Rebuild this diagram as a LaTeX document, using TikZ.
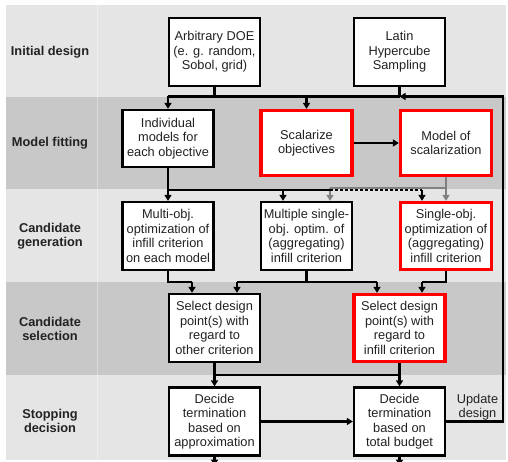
\documentclass[tikz,border=0pt]{standalone}
\usepackage{fontspec}
\setmainfont{Liberation Sans}
\usetikzlibrary{arrows.meta}
\definecolor{bandlight}{HTML}{E5E5E5}
\definecolor{banddark}{HTML}{C8C8C8}
\definecolor{txt}{HTML}{222222}
\definecolor{boxred}{HTML}{FF0000}
\definecolor{linegray}{HTML}{808080}
\begin{document}
\begin{tikzpicture}[x=1pt,y=-1pt,
  font=\fontsize{12.8}{14.5}\selectfont,
  box/.style={draw=black, line width=2.3pt, fill=white, minimum width=91pt, minimum height=68pt, inner sep=0pt, align=center, text=txt},
  redbox/.style={box, draw=boxred, line width=3.3pt},
  conn/.style={line width=2.1pt, draw=black},
  arr/.style={conn, -{Triangle[length=6pt,width=7pt]}},
  grayarr/.style={line width=2.1pt, draw=linegray, -{Triangle[length=6pt,width=7pt]}},
  lbl/.style={font=\fontsize{12.8}{14.5}\selectfont\bfseries, align=center, text=txt}]
\useasboundingbox (0,0) rectangle (508,462);
% bands
\fill[bandlight] (6,5) rectangle (506,97);
\fill[banddark] (6,97) rectangle (506,189.5);
\fill[bandlight] (6,189.5) rectangle (506,282);
\fill[banddark] (6,282) rectangle (506,375);
\fill[bandlight] (6,375) rectangle (506,460);
\draw[white, opacity=0.35, line width=1pt] (97.5,5) -- (97.5,460);
% row labels
\node[lbl] (l1) at (50,52) {Initial design};
\node[lbl] (l2) at (50,143) {Model fitting};
\node[lbl] (l3) at (50,236) {Candidate\\generation};
\node[lbl] (l4) at (50,329) {Candidate\\selection};
\node[lbl] (l5) at (50,421) {Stopping\\decision};
% bus coordinates
\coordinate (b1) at (0,96.5);
\coordinate (b2) at (0,190);
\coordinate (b2g) at (0,188);
\coordinate (b3) at (0,282);
\coordinate (b4) at (0,375);
\coordinate (rx) at (503,0);
% boxes
\node[box] (doe) at (214.5,52) {Arbitrary DOE\\(e. g. random,\\Sobol, grid)};
\node[box] (lhs) at (399.5,52) {Latin\\Hypercube\\Sampling};
\node[box, minimum height=57pt] (ind) at (168,138.5) {Individual\\models for\\each objective};
\node[redbox, minimum height=65pt] (scal) at (306.5,143) {Scalarize\\objectives};
\node[redbox, minimum height=65pt] (mos) at (446,143) {Model of\\scalarization};
\node[box] (moo) at (168,236) {Multi-obj.\\optimization of\\infill criterion\\on each model};
\node[box] (mso) at (306.5,236) {Multiple single-\\obj. optim. of\\(aggregating)\\infill criterion};
\node[redbox, minimum height=67pt] (soo) at (446,236) {Single-obj.\\optimization of\\(aggregating)\\infill criterion};
\node[box] (sel1) at (214.5,328) {Select design\\point(s) with\\regard to\\other criterion};
\node[redbox, minimum height=67pt] (sel2) at (399.5,328) {Select design\\point(s) with\\regard to\\infill criterion};
\node[box] (dec1) at (214.5,421.5) {Decide\\termination\\based on\\approximation};
\node[box] (dec2) at (399.5,421.5) {Decide\\termination\\based on\\total budget};
\node[text=txt, align=center] (upd) at (477.5,407) {Update\\design};
% initial design -> model fitting
\draw[conn] (doe.south) -- (doe.south |- b1);
\draw[conn] (lhs.south) -- (lhs.south |- b1);
\draw[conn] (ind.north |- b1) -- (lhs.south |- b1);
\draw[arr] (ind.north |- b1) -- (ind.north);
\draw[arr] (scal.north |- b1) -- (scal.north);
% update loop
\draw[arr] (dec2.east) -- (dec2.east -| rx) -- (rx |- b1) -- (lhs.south |- b1);
% model fitting -> candidate generation
\draw[arr] (scal.east) -- (mos.west);
\draw[grayarr] (mos.south) -- (soo.north);
\draw[line width=2.1pt, draw=linegray] (mos.south |- b2g) -- ([xshift=23.5pt]mso.north |- b2g);
\draw[grayarr] ([xshift=23.5pt]mso.north |- b2g) -- ([xshift=23.5pt]mso.north);
\draw[arr] (ind.south) -- (moo.north);
\draw[conn] (ind.south |- b2) -- ([xshift=23.5pt]mso.north |- b2);
\draw[arr] ([xshift=-23.5pt]mso.north |- b2) -- ([xshift=-23.5pt]mso.north);
\draw[conn, dashed, dash pattern=on 3pt off 2pt] ([xshift=23.5pt]mso.north |- b2) -- ([xshift=-24pt]soo.north |- b2);
\draw[arr] ([xshift=-24pt]soo.north |- b2) -- ([xshift=-24pt]soo.north);
% candidate generation -> candidate selection
\draw[conn] (moo.south) -- (moo.south |- b3) -- ([xshift=-22.5pt]sel1.north |- b3);
\draw[arr] ([xshift=-22.5pt]sel1.north |- b3) -- ([xshift=-22.5pt]sel1.north);
\draw[conn] (mso.south) -- (mso.south |- b3);
\draw[conn] ([xshift=22.5pt]sel1.north |- b3) -- ([xshift=-22.5pt]sel2.north |- b3);
\draw[arr] ([xshift=22.5pt]sel1.north |- b3) -- ([xshift=22.5pt]sel1.north);
\draw[arr] ([xshift=-22.5pt]sel2.north |- b3) -- ([xshift=-22.5pt]sel2.north);
\draw[conn] (soo.south) -- (soo.south |- b3) -- ([xshift=22.5pt]sel2.north |- b3);
\draw[arr] ([xshift=22.5pt]sel2.north |- b3) -- ([xshift=22.5pt]sel2.north);
% candidate selection -> stopping decision
\draw[arr] (sel1.south) -- (dec1.north);
\draw[arr] (sel2.south) -- (dec2.north);
\draw[conn] (sel1.south |- b4) -- (sel2.south |- b4);
% stopping
\draw[arr] (dec1.east) -- (dec2.west);
\draw[arr] (dec1.south) -- ++(0,9);
\draw[arr] (dec2.south) -- ++(0,9);
\end{tikzpicture}
\end{document}
